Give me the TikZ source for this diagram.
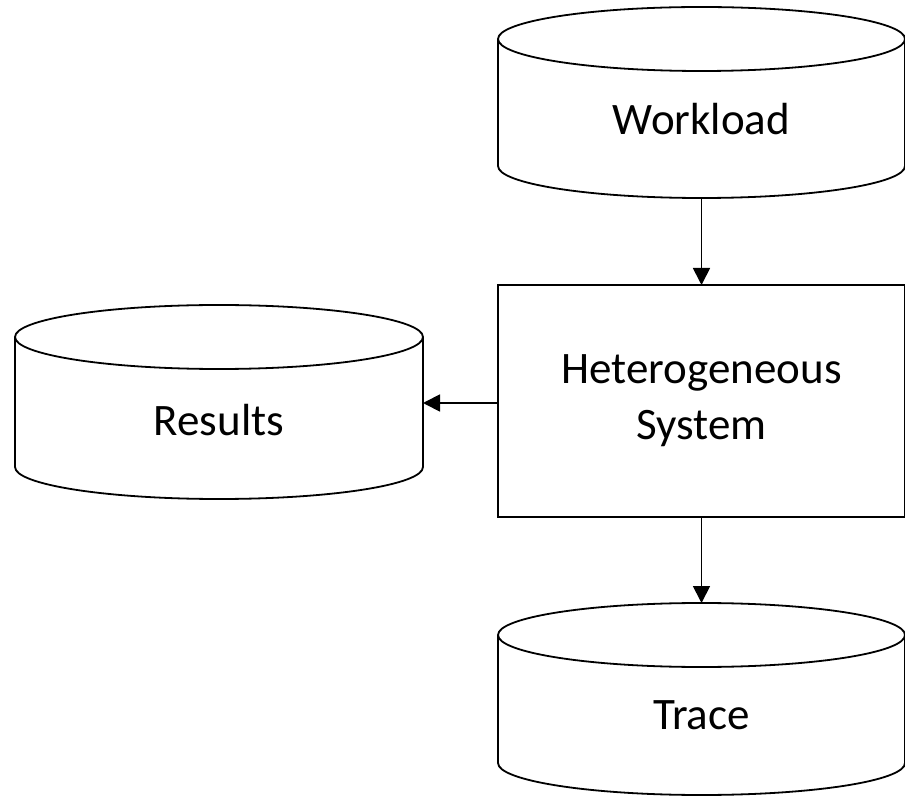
\documentclass[tikz,border=0pt]{standalone}
\usepackage{fontspec}
\setmainfont{Carlito}
\usetikzlibrary{arrows.meta,calc}
\tikzset{
  lw/.style={line width=1.8pt, draw=black},
  cylnode/.style={draw=none, inner sep=0pt, outer sep=0pt},
  sysbox/.style={lw, inner sep=0pt, outer sep=0pt, align=center},
  conn/.style={lw, -{Triangle[width=17pt,length=17pt]}},
  big/.style={font=\fontsize{45}{56}\selectfont}
}
\newcommand\mycyl[2]{%
  \draw[lw] ([yshift=-32pt]#1.north west) arc[start angle=180, end angle=-180, x radius=#2, y radius=32pt];
  \draw[lw] ([yshift=-32pt]#1.north west) -- ([yshift=32pt]#1.south west)
    arc[start angle=180, end angle=360, x radius=#2, y radius=32pt]
    -- ([yshift=-32pt]#1.north east);
}
\begin{document}
\begin{tikzpicture}[x=1pt,y=1pt]
\useasboundingbox[fill=white] (0,0) rectangle (905,796);
\node[cylnode, minimum width=407pt, minimum height=191pt,
  label={[big, yshift=-17pt]center:Workload}] (work) at (701.5,693.5) {};
\node[sysbox, big, minimum width=407pt, minimum height=232pt] (sys) at (701.5,395)
  {Heterogeneous\\System};
\node[cylnode, minimum width=408pt, minimum height=194pt,
  label={[big, yshift=-18pt]center:Results}] (res) at (219,394) {};
\node[cylnode, minimum width=407pt, minimum height=192pt,
  label={[big, yshift=-16pt]center:Trace}] (trace) at (701.5,97) {};
\mycyl{work}{203.5pt}
\mycyl{res}{204pt}
\mycyl{trace}{203.5pt}
\draw[conn] (work.south) -- (sys.north);
\draw[conn] ([yshift=-2pt]sys.west) -- ([yshift=-2pt]sys.west -| res.east);
\draw[conn] (sys.south) -- (trace.north);
\end{tikzpicture}
\end{document}
